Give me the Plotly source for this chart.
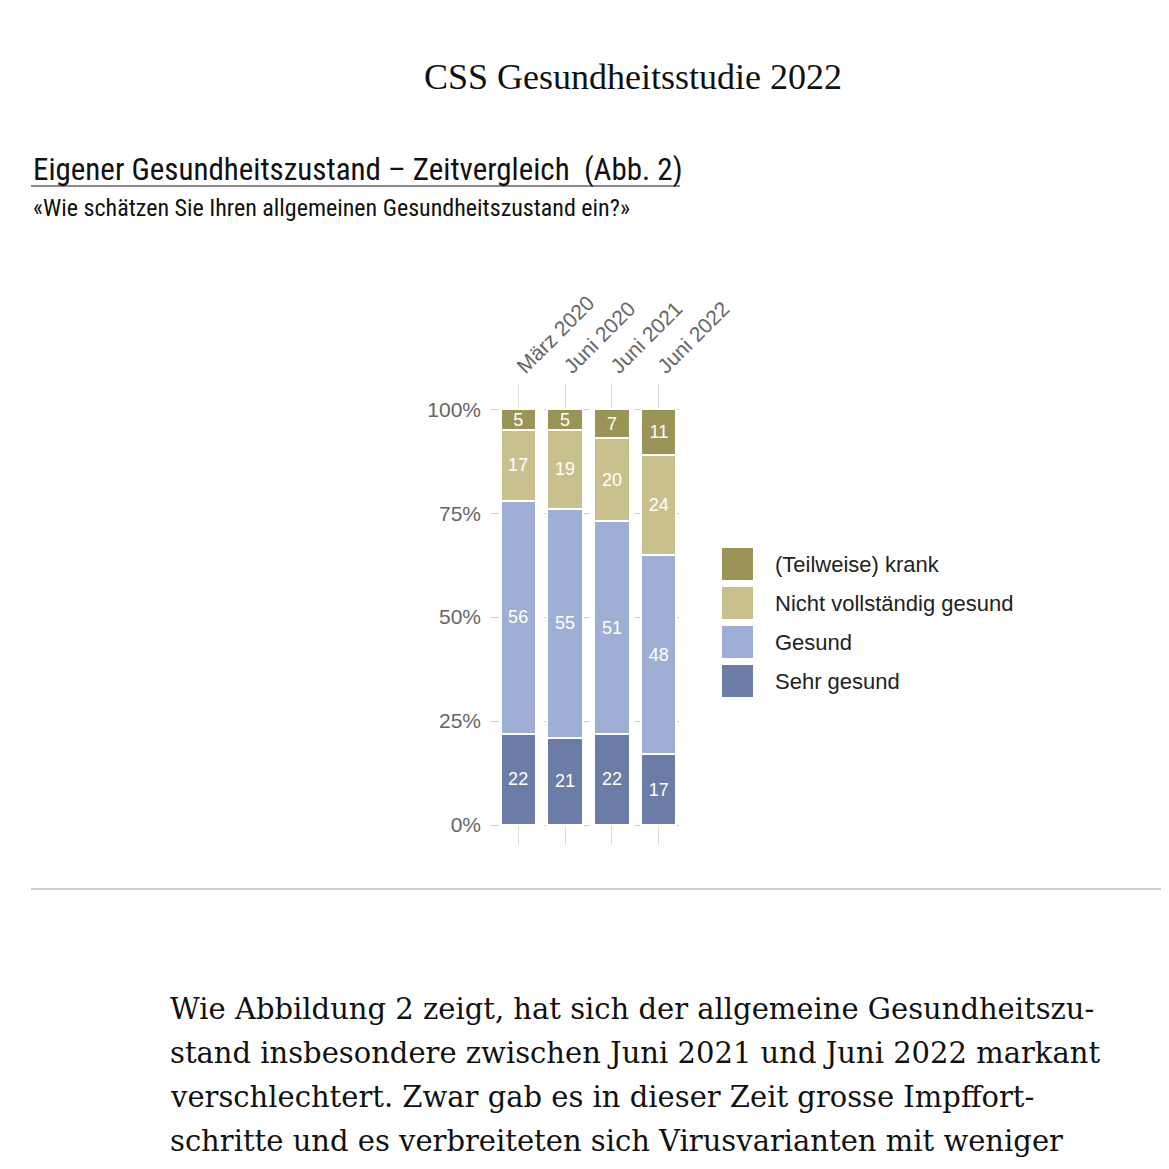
import plotly.graph_objects as go

# ---------------- data ----------------
categories = ["März 2020", "Juni 2020", "Juni 2021", "Juni 2022"]
series_names = ["Sehr gesund", "Gesund", "Nicht vollständig gesund", "(Teilweise) krank"]
sehr_gesund = [22, 21, 22, 17]
gesund = [56, 55, 51, 48]
nicht_vollstaendig = [17, 19, 20, 24]
teilweise_krank = [5, 5, 7, 11]
y_ticks = [0, 25, 50, 75, 100]
y_tick_labels = [f"{v}%" for v in y_ticks]

page_title = "CSS Gesundheitsstudie 2022"
chart_title = "Eigener Gesundheitszustand – Zeitvergleich  (Abb. 2)"
chart_subtitle = "«Wie schätzen Sie Ihren allgemeinen Gesundheitszustand ein?»"
body_lines = [
    "Wie Abbildung 2 zeigt, hat sich der allgemeine Gesundheitszu-",
    "stand insbesondere zwischen Juni 2021 und Juni 2022 markant",
    "verschlechtert. Zwar gab es in dieser Zeit grosse Impffort-",
    "schritte und es verbreiteten sich Virusvarianten mit weniger",
]

values = [sehr_gesund, gesund, nicht_vollstaendig, teilweise_krank]
colors = ["#6b7ca6", "#9eaed4", "#c9c18d", "#9a9457"]

# ---------------- layout geometry (page pixels) ----------------
OFF = 8                      # page body margin
W_FIG, H_FIG = 1169 - OFF, 1169 - OFF
L, R, T, B = 490 - OFF, 687 - OFF, 383 - OFF, 845 - OFF
PW, PH = R - L, B - T


def px(x):
    return (x - OFF - L) / PW


def py(y):
    return (B - (y - OFF)) / PH


SANS_N = "Liberation Sans Narrow, Roboto Condensed, Roboto, sans-serif"
SANS = "Liberation Sans, Arial, Helvetica, sans-serif"
SERIF_T = "Liberation Serif, Times New Roman, serif"
SERIF_B = "DejaVu Serif, Liberation Serif, serif"

fig = go.Figure()
for name, vals, col in zip(series_names, values, colors):
    fig.add_trace(go.Bar(
        x=categories, y=vals, name=name,
        marker=dict(color=col, line=dict(color="white", width=2)),
        width=0.75,
        text=[str(v) for v in vals],
        textposition="inside", insidetextanchor="middle", textangle=0,
        constraintext="none",
        textfont=dict(color="white", size=18, family=SANS),
        showlegend=False, hoverinfo="skip",
    ))

annotations = []
shapes = []

# page title
annotations.append(dict(text=page_title, x=px(633), y=py(77), xref="paper", yref="paper",
                        xanchor="center", yanchor="middle", showarrow=False,
                        font=dict(family=SERIF_T, size=36, color="#111")))
# chart title + underline
annotations.append(dict(text=chart_title, x=px(31), y=py(170), xref="paper", yref="paper",
                        xanchor="left", yanchor="middle", showarrow=False,
                        font=dict(family=SANS_N, size=31, color="#111")))
shapes.append(dict(type="line", xref="paper", yref="paper", x0=px(31), x1=px(680),
                   y0=py(186), y1=py(186), line=dict(color="#8a8a8a", width=2)))
annotations.append(dict(text=chart_subtitle, x=px(31), y=py(208), xref="paper", yref="paper",
                        xanchor="left", yanchor="middle", showarrow=False,
                        font=dict(family=SANS_N, size=24, color="#111")))

# legend (manual, top to bottom)
for i, idx in enumerate([3, 2, 1, 0]):
    cy = 564 + 39 * i
    shapes.append(dict(type="rect", xref="paper", yref="paper", x0=px(722), x1=px(753),
                       y0=py(cy + 16), y1=py(cy - 16), fillcolor=colors[idx], line=dict(width=0)))
    annotations.append(dict(text=series_names[idx], x=px(773), y=py(cy), xref="paper", yref="paper",
                            xanchor="left", yanchor="middle", showarrow=False,
                            font=dict(family=SANS, size=22, color="#222")))

# divider line
shapes.append(dict(type="line", xref="paper", yref="paper", x0=px(31), x1=px(1169),
                   y0=py(889), y1=py(889), line=dict(color="#999", width=1)))

# body text
for i, line in enumerate(body_lines):
    annotations.append(dict(text=line, x=px(168), y=py(1009 + 44 * i), xref="paper", yref="paper",
                            xanchor="left", yanchor="middle", showarrow=False,
                            font=dict(family=SERIF_B, size=29, color="#111")))

fig.update_layout(
    width=W_FIG, height=H_FIG, autosize=False,
    margin=dict(l=L, r=W_FIG - R, t=T, b=H_FIG - B, pad=0),
    paper_bgcolor="white", plot_bgcolor="white",
    barmode="stack",
    annotations=annotations, shapes=shapes,
    xaxis=dict(type="category", range=[-0.6, 3.6], side="top", showgrid=True,
               gridcolor="#dcdcdc", gridwidth=1, ticks="", tickangle=-45,
               tickfont=dict(family=SANS, size=21, color="#666"),
               showline=False, zeroline=False, fixedrange=True),
    yaxis=dict(range=[-4.8, 106.3], tickvals=y_ticks, ticktext=y_tick_labels, showgrid=True,
               griddash="dash", gridcolor="#cccccc", gridwidth=1, zeroline=False,
               showline=False, ticks="", ticklabelstandoff=8,
               tickfont=dict(family=SANS, size=21, color="#666"), fixedrange=True),
)

fig.write_html("out.html")
